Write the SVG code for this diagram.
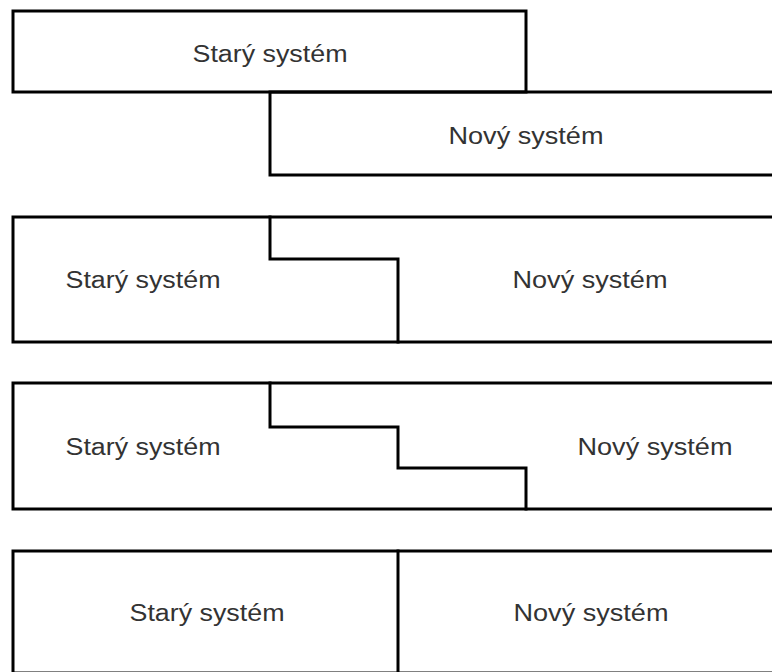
<svg xmlns="http://www.w3.org/2000/svg" width="772" height="672" viewBox="0 0 772 672">
  <style>
    .frame { fill: none; stroke: #000; stroke-width: 3; stroke-linejoin: miter; stroke-linecap: square; }
    .label { font-family: "Liberation Sans", "Noto Sans", Arial, sans-serif; font-size: 23.5px; fill: #333; text-anchor: middle; }
  </style>
  <rect x="0" y="0" width="772" height="672" fill="#fff"/>

  <!-- Panel 1: parallel run, old and new overlap -->
  <g id="panel-parallel">
    <g id="p1-old">
      <rect class="frame" x="13" y="11" width="513" height="81"/>
      <text class="label" x="270" y="62" textLength="155" lengthAdjust="spacingAndGlyphs">Starý systém</text>
    </g>
    <g id="p1-new">
      <path class="frame" d="M 790 92 L 270 92 L 270 175 L 790 175"/>
      <text class="label" x="526" y="144" textLength="155" lengthAdjust="spacingAndGlyphs">Nový systém</text>
    </g>
  </g>

  <!-- Panel 2: one-step pilot changeover -->
  <g id="panel-pilot">
    <rect class="frame" x="13" y="217" width="800" height="125"/>
    <path class="frame" d="M 270 217 L 270 259 L 398 259 L 398 342"/>
    <g id="p2-old">
      <text class="label" x="143" y="288" textLength="155" lengthAdjust="spacingAndGlyphs">Starý systém</text>
    </g>
    <g id="p2-new">
      <text class="label" x="590" y="288" textLength="155" lengthAdjust="spacingAndGlyphs">Nový systém</text>
    </g>
  </g>

  <!-- Panel 3: phased changeover in two steps -->
  <g id="panel-phased">
    <rect class="frame" x="13" y="383" width="800" height="126"/>
    <path class="frame" d="M 270 383 L 270 427 L 398 427 L 398 468 L 526 468 L 526 509"/>
    <g id="p3-old">
      <text class="label" x="143" y="455" textLength="155" lengthAdjust="spacingAndGlyphs">Starý systém</text>
    </g>
    <g id="p3-new">
      <text class="label" x="655" y="455" textLength="155" lengthAdjust="spacingAndGlyphs">Nový systém</text>
    </g>
  </g>

  <!-- Panel 4: direct cut-over -->
  <g id="panel-direct">
    <rect class="frame" x="13" y="551" width="800" height="122"/>
    <line class="frame" x1="398" y1="551" x2="398" y2="673"/>
    <g id="p4-old">
      <text class="label" x="207" y="621" textLength="155" lengthAdjust="spacingAndGlyphs">Starý systém</text>
    </g>
    <g id="p4-new">
      <text class="label" x="591" y="621" textLength="155" lengthAdjust="spacingAndGlyphs">Nový systém</text>
    </g>
  </g>
</svg>
